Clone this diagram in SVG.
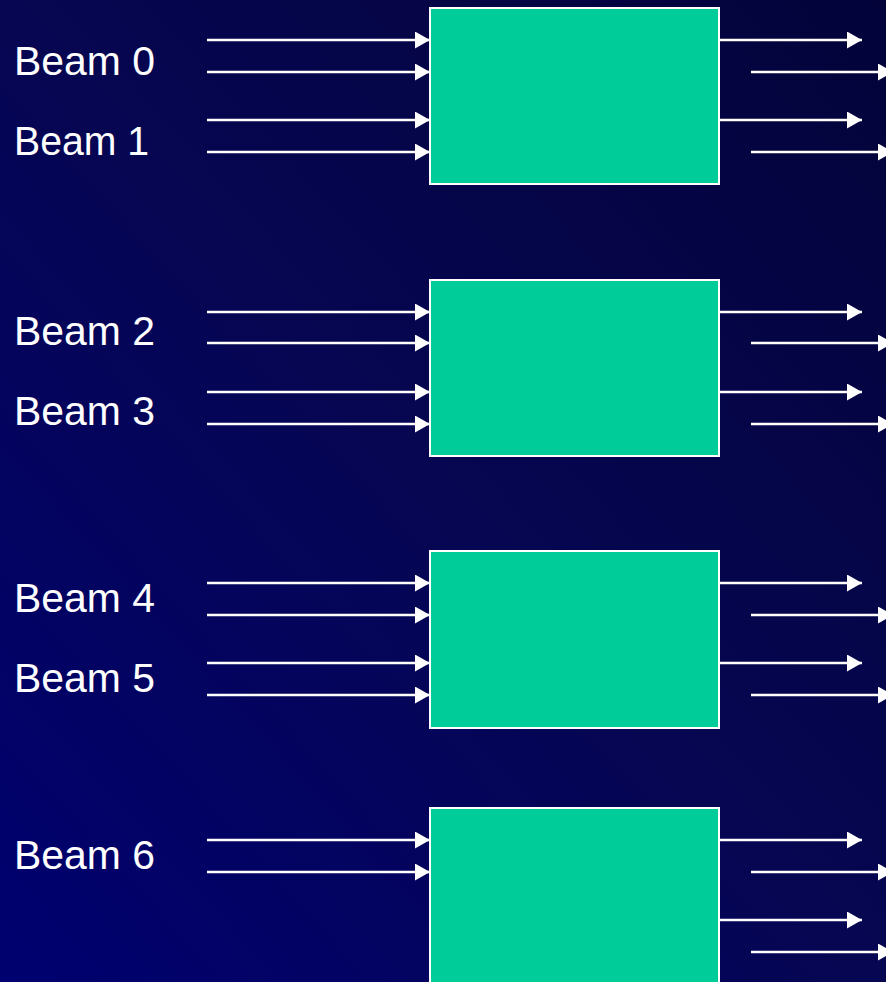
<svg xmlns="http://www.w3.org/2000/svg" width="886" height="982" viewBox="0 0 886 982">
  <defs>
    <linearGradient id="bg" x1="0" y1="1" x2="1" y2="0">
      <stop offset="0" stop-color="#000070"/>
      <stop offset="0.5" stop-color="#060652"/>
      <stop offset="1" stop-color="#03033a"/>
    </linearGradient>
    <marker id="arr" markerUnits="userSpaceOnUse" markerWidth="16" markerHeight="17" refX="15" refY="8.5" orient="auto" viewBox="0 0 16 17">
      <path d="M0,0 L15,8.5 L0,17 z" fill="#ffffff"/>
    </marker>
    <style>
      .box { fill: #00cc99; stroke: #ffffff; stroke-width: 2; }
      .lbl { font-family: "Comic Sans MS", "Liberation Sans", "DejaVu Sans", sans-serif; font-size: 40px; fill: #ffffff; }
      .c line { stroke: #ffffff; stroke-width: 2.5; marker-end: url(#arr); }
    </style>
  </defs>
  <rect x="0" y="0" width="886" height="982" fill="url(#bg)"/>

  <g id="labels">
    <text class="lbl" x="14" y="75" textLength="141" lengthAdjust="spacingAndGlyphs">Beam 0</text>
    <text class="lbl" x="14" y="155" textLength="135" lengthAdjust="spacingAndGlyphs">Beam 1</text>
    <text class="lbl" x="14" y="345" textLength="141" lengthAdjust="spacingAndGlyphs">Beam 2</text>
    <text class="lbl" x="14" y="425" textLength="141" lengthAdjust="spacingAndGlyphs">Beam 3</text>
    <text class="lbl" x="14" y="612" textLength="141" lengthAdjust="spacingAndGlyphs">Beam 4</text>
    <text class="lbl" x="14" y="692" textLength="141" lengthAdjust="spacingAndGlyphs">Beam 5</text>
    <text class="lbl" x="14" y="869" textLength="141" lengthAdjust="spacingAndGlyphs">Beam 6</text>
  </g>

  <g id="node1"><rect class="box" x="430" y="8" width="289" height="176"/></g>
  <g id="node2"><rect class="box" x="430" y="280" width="289" height="176"/></g>
  <g id="node3"><rect class="box" x="430" y="551" width="289" height="177"/></g>
  <g id="node4"><rect class="box" x="430" y="808" width="289" height="190"/></g>

  <g id="connectors" class="c">
    <line x1="207" y1="40" x2="430" y2="40"/>
    <line x1="207" y1="72" x2="430" y2="72"/>
    <line x1="207" y1="120" x2="430" y2="120"/>
    <line x1="207" y1="152" x2="430" y2="152"/>
    <line x1="720" y1="40" x2="862" y2="40"/>
    <line x1="751" y1="72" x2="893" y2="72"/>
    <line x1="720" y1="120" x2="862" y2="120"/>
    <line x1="751" y1="152" x2="893" y2="152"/>

    <line x1="207" y1="312" x2="430" y2="312"/>
    <line x1="207" y1="343" x2="430" y2="343"/>
    <line x1="207" y1="392" x2="430" y2="392"/>
    <line x1="207" y1="424" x2="430" y2="424"/>
    <line x1="720" y1="312" x2="862" y2="312"/>
    <line x1="751" y1="343" x2="893" y2="343"/>
    <line x1="720" y1="392" x2="862" y2="392"/>
    <line x1="751" y1="424" x2="893" y2="424"/>

    <line x1="207" y1="583" x2="430" y2="583"/>
    <line x1="207" y1="615" x2="430" y2="615"/>
    <line x1="207" y1="663" x2="430" y2="663"/>
    <line x1="207" y1="695" x2="430" y2="695"/>
    <line x1="720" y1="583" x2="862" y2="583"/>
    <line x1="751" y1="615" x2="893" y2="615"/>
    <line x1="720" y1="663" x2="862" y2="663"/>
    <line x1="751" y1="695" x2="893" y2="695"/>

    <line x1="207" y1="840" x2="430" y2="840"/>
    <line x1="207" y1="872" x2="430" y2="872"/>
    <line x1="720" y1="840" x2="862" y2="840"/>
    <line x1="751" y1="872" x2="893" y2="872"/>
    <line x1="720" y1="920" x2="862" y2="920"/>
    <line x1="751" y1="952" x2="893" y2="952"/>
  </g>
</svg>
